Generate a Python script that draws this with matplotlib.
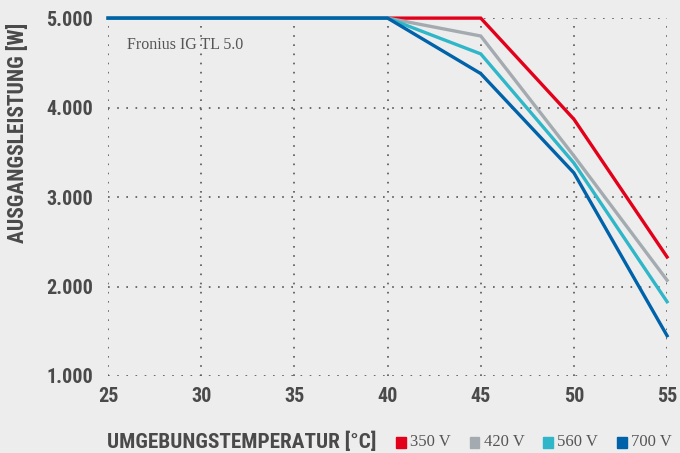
import matplotlib.pyplot as plt
from matplotlib.patches import Rectangle

# Fronius IG TL 5.0 derating data
temps = [25, 30, 35, 40, 45, 50, 55]
p_350 = [5000, 5000, 5000, 5000, 5000, 3870, 2330]
p_420 = [5000, 5000, 5000, 5000, 4800, 3460, 2070]
p_560 = [5000, 5000, 5000, 5000, 4600, 3380, 1830]
p_700 = [5000, 5000, 5000, 5000, 4380, 3270, 1450]
labels = ['350 V', '420 V', '560 V', '700 V']
colors = ['#e2001a', '#a4abb0', '#2fb7c9', '#0062a8']
yticks = [1000, 2000, 3000, 4000, 5000]
ytick_labels = ['1.000', '2.000', '3.000', '4.000', '5.000']

bg = '#ededed'
txt = '#4a4a4a'
narrow = ['Roboto Condensed', 'Roboto', 'DejaVu Sans']

fig = plt.figure(figsize=(6.8, 4.53), dpi=100, facecolor=bg)
ax = fig.add_axes([0.159, 0.170, 0.822, 0.790], facecolor=bg)

for series, c in zip([p_350, p_420, p_560, p_700], colors):
    ax.plot(temps, series, color=c, lw=2.4, clip_on=False, solid_joinstyle='miter', zorder=3)

ax.set_xlim(25, 55)
ax.set_ylim(1000, 5000)
ax.set_xticks(temps)
ax.set_yticks(yticks)
ax.set_yticklabels(ytick_labels)
ax.grid(True, linestyle=(0, (1, 4.5)), color='#555555', lw=1.2)
for s in ax.spines.values():
    s.set_visible(False)
ax.tick_params(length=0, labelcolor=txt, labelsize=14.5)
ax.tick_params(axis='x', pad=8)
ax.tick_params(axis='y', pad=11)
for lab in ax.get_xticklabels() + ax.get_yticklabels():
    lab.set_family(narrow)
    lab.set_fontweight('bold')

ax.text(26.0, 4700, 'Fronius IG TL 5.0', family='Liberation Serif', fontsize=11.5,
        color='#555555', va='center')

fig.text(0.027, 1 - 133 / 453, 'AUSGANGSLEISTUNG [W]', rotation=90, ha='center', va='center',
         color=txt, fontsize=15.5, family=narrow, weight='bold')
fig.text(0.553, 1 - 442 / 453, 'UMGEBUNGSTEMPERATUR [°C]', ha='right', va='center',
         color=txt, fontsize=15.3, family=narrow, weight='bold')

# legend
x0 = 396 / 680
step = 73.5 / 680
for i, (lab, c) in enumerate(zip(labels, colors)):
    x = x0 + i * step
    fig.patches.append(Rectangle((x, 1 - 448 / 453), 10 / 680, 11 / 453, color=c,
                                 transform=fig.transFigure, figure=fig))
    fig.text(x + 14 / 680, 1 - 442 / 453, lab, family='Liberation Serif', fontsize=12,
             color='#555555', va='center')

fig.savefig('out.png', dpi=100, facecolor=bg)
